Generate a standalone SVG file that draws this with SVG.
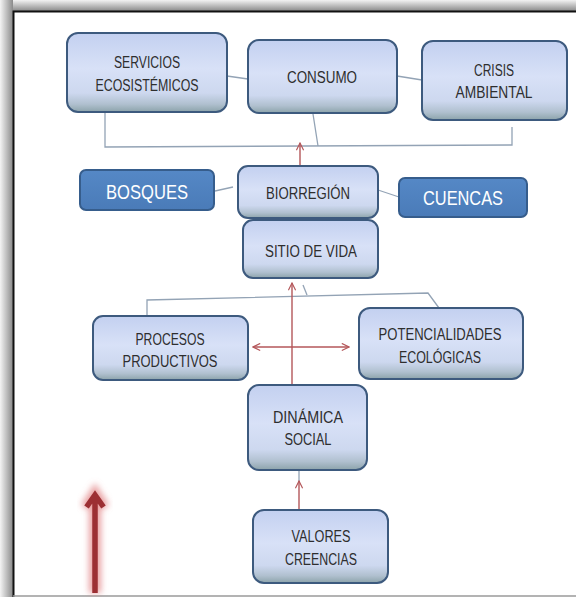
<svg xmlns="http://www.w3.org/2000/svg" width="576" height="597" viewBox="0 0 576 597">
<defs>
<linearGradient id="gLight" x1="0" y1="0" x2="0" y2="1">
<stop offset="0" stop-color="#c3d0f0"/>
<stop offset="0.45" stop-color="#d8e1f7"/>
<stop offset="0.76" stop-color="#cdd8ef"/>
<stop offset="0.9" stop-color="#b0c0cf"/>
<stop offset="1" stop-color="#8ca3aa"/>
</linearGradient>
<linearGradient id="gDark" x1="0" y1="0" x2="0" y2="1">
<stop offset="0" stop-color="#5588c6"/>
<stop offset="1" stop-color="#4a7bb8"/>
</linearGradient>
<linearGradient id="gTop" x1="0" y1="0" x2="0" y2="1">
<stop offset="0" stop-color="#f2f2f2"/>
<stop offset="1" stop-color="#8a8a8a"/>
</linearGradient>
<linearGradient id="gLeft" x1="0" y1="0" x2="1" y2="0">
<stop offset="0" stop-color="#f4f4f4"/>
<stop offset="1" stop-color="#8a8a8a"/>
</linearGradient>
<filter id="glow" x="-50%" y="-20%" width="200%" height="140%">
<feGaussianBlur stdDeviation="3"/>
</filter>
<marker id="ah" viewBox="0 0 10 10" refX="9" refY="5" markerWidth="9" markerHeight="9" markerUnits="userSpaceOnUse" orient="auto-start-reverse">
<path d="M1,1 L9,5 L1,9" fill="none" stroke="#b4575a" stroke-width="1.3"/>
</marker>
<style>
.lb{fill:url(#gLight);stroke:#3d5a7e;stroke-width:2}
.db{fill:url(#gDark);stroke:#365d8c;stroke-width:2}
.t{font-family:"Liberation Sans",Arial,sans-serif;font-size:16px;fill:#2e2e2e;text-anchor:middle}
.tw{font-family:"Liberation Sans",Arial,sans-serif;font-size:21px;fill:#fff;text-anchor:middle}
.c{fill:none;stroke:#93a3b5;stroke-width:1.3}
.r{fill:none;stroke:#b4575a;stroke-width:1.4}
</style>
</defs>
<rect x="0" y="0" width="576" height="597" fill="#ffffff"/>
<rect x="0" y="0" width="576" height="11" fill="url(#gTop)"/>
<rect x="0" y="0" width="13" height="597" fill="url(#gLeft)"/>
<path d="M13.5,597 V11.5 H576" fill="none" stroke="#111" stroke-width="2"/>
<line x1="13" y1="596" x2="576" y2="596" stroke="#9a9a9a" stroke-width="1.5"/>

<g id="connectors">
<line class="c" x1="227" y1="76" x2="248" y2="79"/>
<line class="c" x1="397" y1="76" x2="422" y2="80"/>
<path class="c" d="M105,113 V147 L512,145 V127"/>
<line class="c" x1="313" y1="114" x2="318" y2="146"/>
<line class="c" x1="215" y1="191" x2="233" y2="187"/>
<line class="c" x1="378" y1="190" x2="399" y2="197"/>
<path class="c" d="M147,316 V300 L428,293 L439,308"/>
<line class="c" x1="303" y1="285" x2="307" y2="295"/>
<line class="c" x1="299" y1="470" x2="299" y2="482"/>
<line class="r" x1="300" y1="166" x2="300" y2="143" marker-end="url(#ah)"/>
<line class="r" x1="292" y1="386" x2="292" y2="283" marker-end="url(#ah)"/>
<line class="r" x1="253" y1="347" x2="349" y2="347" marker-start="url(#ah)" marker-end="url(#ah)"/>
<line class="r" x1="299" y1="510" x2="299" y2="481" marker-end="url(#ah)"/>
</g>

<g id="big-arrow">
<path d="M95,593 V495 M86,508 L95,494 L104,508" fill="none" stroke="#e07a7c" stroke-width="12" stroke-opacity="0.7" filter="url(#glow)"/>
<path d="M95,593 V496 M86.5,507 L95,495 L103.5,507" fill="none" stroke="#9c2f33" stroke-width="5.5" stroke-linecap="butt" stroke-linejoin="miter"/>
</g>

<g id="servicios">
<rect class="lb" x="67" y="33" width="160" height="79" rx="11"/>
<text class="t" x="147" y="68" textLength="66" lengthAdjust="spacingAndGlyphs">SERVICIOS</text>
<text class="t" x="147" y="91" textLength="103" lengthAdjust="spacingAndGlyphs">ECOSISTÉMICOS</text>
</g>
<g id="consumo">
<rect class="lb" x="248" y="40" width="149" height="73" rx="11"/>
<text class="t" x="322" y="83" textLength="70" lengthAdjust="spacingAndGlyphs">CONSUMO</text>
</g>
<g id="crisis">
<rect class="lb" x="422" y="41" width="145" height="79" rx="11"/>
<text class="t" x="494" y="76" textLength="40" lengthAdjust="spacingAndGlyphs">CRISIS</text>
<text class="t" x="494" y="98" textLength="77" lengthAdjust="spacingAndGlyphs">AMBIENTAL</text>
</g>
<g id="bosques">
<rect class="db" x="80" y="170" width="134" height="40" rx="6"/>
<text class="tw" x="147" y="199" textLength="82" lengthAdjust="spacingAndGlyphs">BOSQUES</text>
</g>
<g id="biorregion">
<rect class="lb" x="238" y="166" width="140" height="52" rx="10"/>
<text class="t" x="308" y="199" textLength="84" lengthAdjust="spacingAndGlyphs">BIORREGIÓN</text>
</g>
<g id="cuencas">
<rect class="db" x="399" y="178" width="128" height="39" rx="6"/>
<text class="tw" x="463" y="205" textLength="80" lengthAdjust="spacingAndGlyphs">CUENCAS</text>
</g>
<g id="sitio">
<rect class="lb" x="243" y="220" width="135" height="58" rx="10"/>
<text class="t" x="311" y="257" textLength="92" lengthAdjust="spacingAndGlyphs">SITIO DE VIDA</text>
</g>
<g id="procesos">
<rect class="lb" x="93" y="316" width="155" height="64" rx="10"/>
<text class="t" x="170" y="345" textLength="69" lengthAdjust="spacingAndGlyphs">PROCESOS</text>
<text class="t" x="170" y="367" textLength="95" lengthAdjust="spacingAndGlyphs">PRODUCTIVOS</text>
</g>
<g id="potencialidades">
<rect class="lb" x="359" y="308" width="164" height="71" rx="11"/>
<text class="t" x="440" y="340" textLength="123" lengthAdjust="spacingAndGlyphs">POTENCIALIDADES</text>
<text class="t" x="440" y="363" textLength="82" lengthAdjust="spacingAndGlyphs">ECOLÓGICAS</text>
</g>
<g id="dinamica">
<rect class="lb" x="248" y="385" width="119" height="85" rx="11"/>
<text class="t" x="308" y="423" textLength="70" lengthAdjust="spacingAndGlyphs">DINÁMICA</text>
<text class="t" x="308" y="445" textLength="47" lengthAdjust="spacingAndGlyphs">SOCIAL</text>
</g>
<g id="valores">
<rect class="lb" x="253" y="510" width="135" height="73" rx="11"/>
<text class="t" x="321" y="542" textLength="59" lengthAdjust="spacingAndGlyphs">VALORES</text>
<text class="t" x="321" y="565" textLength="72" lengthAdjust="spacingAndGlyphs">CREENCIAS</text>
</g>
</svg>
